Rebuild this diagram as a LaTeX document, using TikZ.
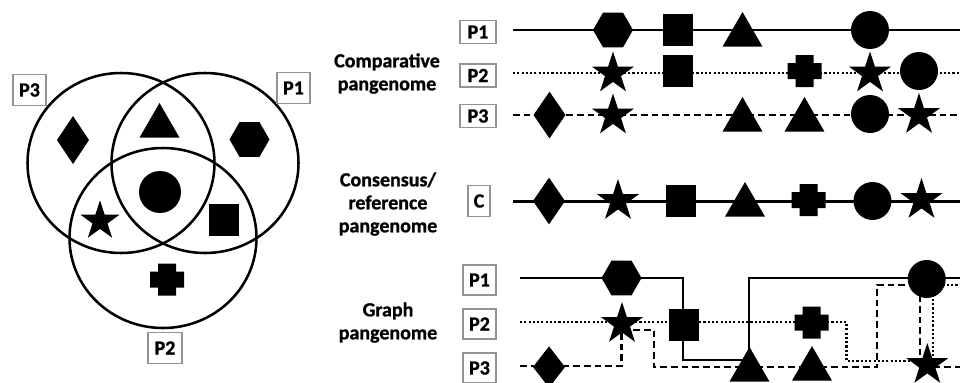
\documentclass[tikz,border=0pt]{standalone}
\usepackage{fontspec}
\setmainfont{Carlito}[BoldFeatures={FakeBold=1}]
\usetikzlibrary{shapes.geometric}
\pgfdeclarelayer{background}
\pgfsetlayers{background,main}

\tikzset{
  % filled gene marks
  mark base/.style={fill=black, draw=none, inner sep=0pt, outer sep=0pt},
  hexmark/.style={mark base, regular polygon, regular polygon sides=6, minimum size=30pt},
  trimark/.style={mark base, regular polygon, regular polygon sides=3, minimum size=34.5pt},
  sqmark/.style={mark base, rectangle, minimum width=22.5pt, minimum height=24pt},
  circmark/.style={mark base, circle, minimum size=28.5pt},
  starmark/.style={mark base, star, star points=5, star point ratio=2.618, minimum size=33pt},
  diamark/.style={mark base, diamond, minimum width=24pt, minimum height=35pt},
  plusmark/.style={rectangle, inner sep=0pt, outer sep=0pt,
    minimum width=25.5pt, minimum height=24pt,
    path picture={\fill[shift={(path picture bounding box.center)}]
      (-17,-8) rectangle (17,8) (-9,-16) rectangle (9,16);}},
  % labels
  tagbox/.style={draw=gray!85, line width=0.8pt, fill=white, inner sep=0pt,
    font=\bfseries\fontsize{15}{18}\selectfont},
  venntag/.style={tagbox, minimum width=24.75pt, minimum height=23.25pt},
  rowtag/.style={tagbox, minimum width=27pt, minimum height=17.25pt},
  ctag/.style={tagbox, minimum width=16.5pt, minimum height=23.25pt},
  graphtag/.style={tagbox, minimum width=24.75pt, minimum height=22.5pt},
  heading/.style={align=center, font=\bfseries\fontsize{15}{17.25}\selectfont},
  % Venn sets
  vennset/.style={ellipse, draw, line width=1.9pt, inner sep=0pt,
    minimum width=140.25pt, minimum height=135pt},
  % genome paths
  solidpath/.style={line width=1.8pt},
  dottedpath/.style={line width=1.8pt, dash pattern=on 1.6pt off 1.6pt},
  dashedpath/.style={line width=1.8pt, dash pattern=on 5pt off 3pt},
}

\begin{document}
\begin{tikzpicture}[x=0.75pt, y=-0.75pt]
\path[use as bounding box] (0,0) rectangle (960,382);

% ---------------- Venn diagram ----------------
\node[vennset] (setP3) at (121,163) {};
\node[vennset] (setP1) at (205,163) {};
\node[vennset] (setP2) at (163,238) {};
\node[venntag] (tagP3) at (29.5,90) {P3};
\node[venntag] (tagP1) at (293.5,88) {P1};
\node[venntag, minimum width=25.5pt] (tagP2) at (165,348) {P2};
\node[diamark, minimum height=36pt] (vDia) at (73,140) {};
\node[trimark] (vTri) at (159.5,126) {};
\node[hexmark] (vHex) at (249.5,139.5) {};
\node[circmark, minimum size=31.5pt] (vCirc) at (160,192) {};
\node[starmark, minimum size=31pt] (vStar) at (100,221) {};
\node[sqmark] (vSq) at (224,220) {};
\node[plusmark] (vPlus) at (167,279.5) {};

% ---------------- Comparative pangenome ----------------
\node[heading] (hComp) at (387,73.5) {Comparative\\pangenome};
\node[rowtag] (cP1) at (478,32) {P1};
\node[rowtag] (cP2) at (478,75.5) {P2};
\node[rowtag] (cP3) at (478,116) {P3};
\coordinate (c1a) at (513,30);  \coordinate (c1b) at (960,30);
\coordinate (c2a) at (513,73);  \coordinate (c2b) at (960,73);
\coordinate (c3a) at (513,115); \coordinate (c3b) at (960,115);

\node[hexmark]  (c1Hex)  at (613,30) {};
\node[sqmark]   (c1Sq)   at (678,30) {};
\node[trimark]  (c1Tri)  at (742.5,35) {};
\node[circmark] (c1Circ) at (870,30) {};

\node[starmark] (c2StarA) at (613,73.5) {};
\node[sqmark]   (c2Sq)    at (678,71) {};
\node[plusmark] (c2Plus)  at (804.5,71) {};
\node[starmark] (c2StarB) at (870,73.5) {};
\node[circmark] (c2Circ)  at (919,71) {};

\node[diamark]  (c3Dia)   at (549.5,115) {};
\node[starmark] (c3StarA) at (613,115.5) {};
\node[trimark]  (c3TriA)  at (742.5,120) {};
\node[trimark]  (c3TriB)  at (804.5,120) {};
\node[circmark] (c3Circ)  at (870,114) {};
\node[starmark] (c3StarB) at (919,115) {};

% ---------------- Consensus / reference pangenome ----------------
\node[heading] (hCons) at (388,204) {Consensus/\\reference\\pangenome};
\node[ctag] (rC) at (479,201) {C};
\coordinate (r0a) at (513,201.5); \coordinate (r0b) at (960,201.5);
\node[diamark]  (rDia)  at (549,201) {};
\node[starmark] (rStarA) at (618,201) {};
\node[sqmark]   (rSq)   at (680.5,201) {};
\node[trimark]  (rTri)  at (745,205) {};
\node[plusmark] (rPlus) at (808.5,200) {};
\node[circmark] (rCirc) at (872.5,201) {};
\node[starmark] (rStarB) at (921.5,200) {};

% ---------------- Graph pangenome ----------------
\node[heading] (hGraph) at (388,322.5) {Graph\\pangenome};
\node[graphtag] (gP1) at (479.5,280) {P1};
\node[graphtag] (gP2) at (479.5,324) {P2};
\node[graphtag] (gP3) at (479.5,368) {P3};

\node[hexmark]  (gHex)   at (621.5,278) {};
\node[starmark] (gStarA) at (622,324) {};
\node[sqmark]   (gSq)    at (684,325) {};
\node[trimark]  (gTriA)  at (749.5,370) {};
\node[plusmark] (gPlus)  at (811.5,322.5) {};
\node[trimark]  (gTriB)  at (812,369) {};
\node[circmark] (gCirc)  at (926.7,279) {};
\node[starmark] (gStarB) at (927.3,365) {};
\node[diamark, minimum width=24pt, minimum height=31pt] (gDia) at (549,367) {};

% P1 route
\coordinate (g1a) at (520,278);   \coordinate (g1t) at (683,278);
\coordinate (g1b) at (683,360);   \coordinate (g1c) at (749,360);
\coordinate (g1d) at (749,278);   \coordinate (g1e) at (960,278);
% P2 route
\coordinate (g2a) at (520,322);   \coordinate (g2t) at (846.5,322);
\coordinate (g2b) at (846.5,361); \coordinate (g2c) at (933,361);
\coordinate (g2d) at (933,285);   \coordinate (g2e) at (960,285);
% P3 route
\coordinate (g3a) at (520,366);   \coordinate (g3b) at (621.5,366);
\coordinate (g3c) at (621.5,330); \coordinate (g3d) at (654,330);
\coordinate (g3e) at (654,367);   \coordinate (g3f) at (877,367);
\coordinate (g3g) at (877,285);   \coordinate (g3h) at (920,285);
\coordinate (g3i) at (920,367);   \coordinate (g3j) at (960,367);

\begin{pgfonlayer}{background}
  \draw[solidpath]  (c1a) -- (c1b);
  \draw[dottedpath] (c2a) -- (c2b);
  \draw[dashedpath] (c3a) -- (c3b);
  \draw[solidpath]  (r0a) -- (r0b);
  \draw[solidpath]  (g1a) -- (g1t) -- (g1b) -- (g1c) -- (g1d) -- (g1e);
  \draw[dottedpath] (g2a) -- (g2t) -- (g2b) -- (g2c) -- (g2d) -- (g2e);
  \draw[dashedpath] (g3a) -- (g3b) -- (g3c) -- (g3d) -- (g3e) -- (g3f)
                    -- (g3g) -- (g3h) -- (g3i) -- (g3j);
\end{pgfonlayer}
\end{tikzpicture}
\end{document}
